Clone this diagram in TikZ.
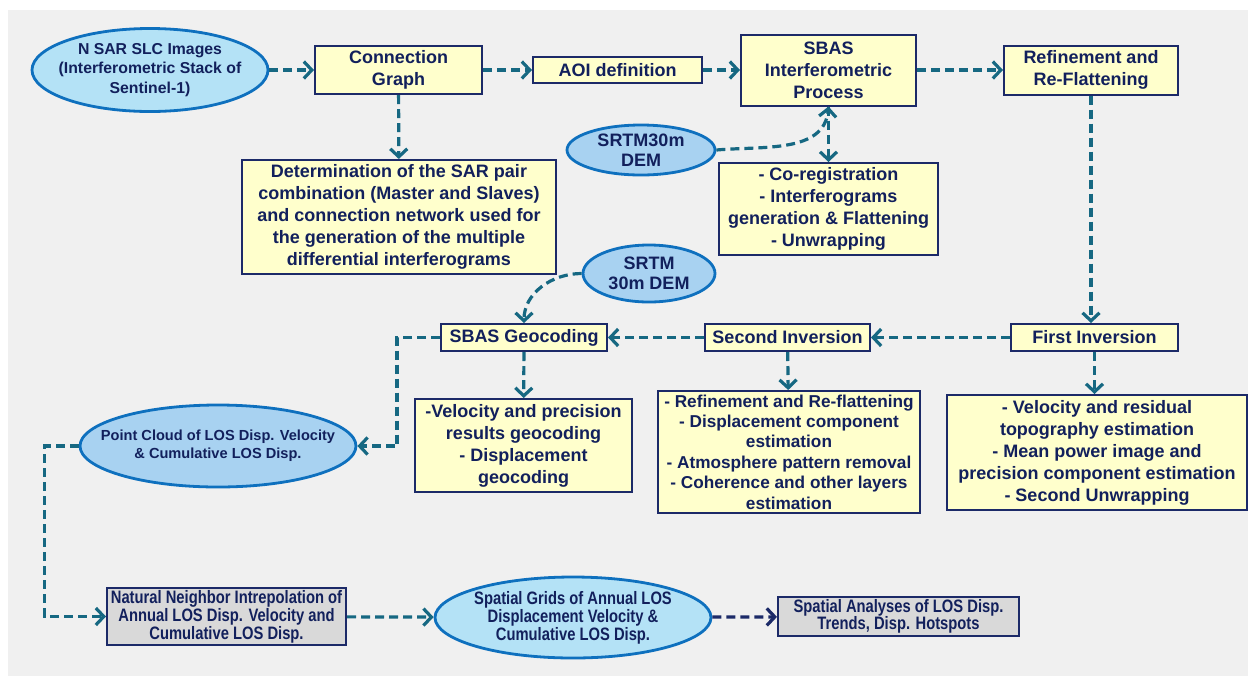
\documentclass[tikz,border=0pt]{standalone}
\usepackage{fontspec}
\setmainfont{Liberation Sans}
\newfontfamily\narrowfont[FakeStretch=0.82]{Liberation Sans}
\usepackage{tikz}
\usetikzlibrary{arrows.meta,shapes.geometric}
\definecolor{PanelGray}{RGB}{240,240,240}
\definecolor{BoxFill}{RGB}{255,255,204}
\definecolor{BoxLine}{RGB}{28,42,104}
\definecolor{TextNavy}{RGB}{18,32,92}
\definecolor{OvalLight}{RGB}{180,226,246}
\definecolor{OvalMid}{RGB}{168,210,241}
\definecolor{OvalLine}{RGB}{14,112,190}
\definecolor{GrayFill}{RGB}{217,217,217}
\definecolor{FlowTeal}{RGB}{22,104,130}

\begin{document}
\begin{tikzpicture}[x=0.5pt, y=-0.5pt,
	box/.style={draw=BoxLine, fill=BoxFill, line width=1pt, inner sep=0pt, align=center, text=TextNavy, font=\bfseries\fontsize{9}{11}\selectfont},
	graybox/.style={box, fill=GrayFill, font=\narrowfont\bfseries\fontsize{9}{9}\selectfont},
	oval/.style={ellipse, draw=OvalLine, fill=OvalLight, line width=1.4pt, inner sep=0pt},
	ovaltext/.style={align=center, text=TextNavy, inner sep=0pt, font=\bfseries\fontsize{9}{10}\selectfont},
	flow/.style={draw=FlowTeal, line width=1.6pt, dash pattern=on 4.5pt off 2.5pt, -{Straight Barb[length=4pt,width=8.5pt]}}]
				% panel
				\fill[white] (0,0) rectangle (1248,676);
				\fill[PanelGray] (8,10) rectangle (1248,676);
				\useasboundingbox (0,0) rectangle (1248,676);

				% input stack
				\node[oval, minimum width=118pt, minimum height=41.5pt] (nsar) at (150,70) {};
				\node[ovaltext, font=\bfseries\fontsize{7.9}{9.8}\selectfont] (nsartxt) at (nsar) {N SAR SLC Images\\(Interferometric Stack of\\Sentinel-1)};

				% top row
				\node[box, minimum width=83.5pt, minimum height=24pt] (cgraph) at (398.5,70) {Connection\\Graph};
				\node[box, minimum width=84.5pt, minimum height=13pt] (aoi) at (617.5,70) {AOI definition};
				\node[box, minimum width=87.5pt, minimum height=35.5pt] (sbas) at (828.5,70) {SBAS\\Interferometric\\Process};
				\node[box, minimum width=87pt, minimum height=24.5pt] (refine) at (1091,70) {Refinement and\\Re-Flattening};

				% pair selection
				\node[box, minimum width=157pt, minimum height=57pt] (determ) at (399,217) {Determination of the SAR pair\\combination (Master and Slaves)\\and connection network used for\\the generation of the multiple\\differential interferograms};

				% dem for interferometry
				\node[oval, fill=OvalMid, minimum width=74pt, minimum height=25pt] (demA) at (641,150) {};
				\node[ovaltext] (demAtxt) at (demA) {SRTM30m\\DEM};
				\node[box, minimum width=109.5pt, minimum height=46pt] (coreg) at (828.5,209) {- Co-registration\\- Interferograms\\generation \& Flattening\\- Unwrapping};

				% dem for geocoding
				\node[oval, fill=OvalMid, minimum width=66pt, minimum height=28.5pt] (demB) at (649,273.5) {};
				\node[ovaltext] (demBtxt) at (demB) {SRTM\\30m DEM};

				% inversion row
				\node[box, minimum width=83pt, minimum height=13.5pt] (geo) at (524,337.5) {SBAS Geocoding};
				\node[box, minimum width=82.5pt, minimum height=13.5pt] (second) at (787.5,337.5) {Second Inversion};
				\node[box, minimum width=83.5pt, minimum height=13.5pt] (first) at (1094.5,337.5) {First Inversion};

				% details
				\node[box, minimum width=108.5pt, minimum height=46.5pt] (velgeo) at (523.5,445.5) {-Velocity and precision\\results geocoding\\- Displacement\\geocoding};
				\node[box, minimum width=131pt, minimum height=61pt, font=\bfseries\fontsize{8.6}{10.2}\selectfont] (secdet) at (789,452) {- Refinement and Re-flattening\\- Displacement component\\estimation\\- Atmosphere pattern removal\\- Coherence and other layers\\estimation};
				\node[box, minimum width=150pt, minimum height=57.5pt] (firstdet) at (1097,452.5) {- Velocity and residual\\topography estimation\\- Mean power image and\\precision component estimation\\- Second Unwrapping};

				% point cloud
				\node[oval, fill=OvalMid, minimum width=138pt, minimum height=41pt] (pcloud) at (218,446) {};
				\node[ovaltext, font=\bfseries\fontsize{7.3}{9}\selectfont] (pcloudtxt) at (pcloud) {Point Cloud of LOS Disp. Velocity\\\& Cumulative LOS Disp.};

				% bottom row
				\node[graybox, minimum width=119.5pt, minimum height=28.5pt] (natnb) at (226.5,616.5) {Natural Neighbor Intrepolation of\\Annual LOS Disp. Velocity and\\Cumulative LOS Disp.};
				\node[oval, minimum width=138pt, minimum height=40.5pt] (grids) at (573,617.5) {};
				\node[ovaltext, font=\narrowfont\bfseries\fontsize{9}{9}\selectfont] (gridstxt) at (grids) {Spatial Grids of Annual LOS\\Displacement Velocity \&\\Cumulative LOS Disp.};
				\node[graybox, minimum width=120.5pt, minimum height=19.5pt, font=\narrowfont\bfseries\fontsize{9}{8.6}\selectfont] (spat) at (898.5,616.5) {Spatial Analyses of LOS Disp.\\Trends, Disp. Hotspots};

				% connectors
				\draw[flow] (nsar) -- (cgraph);
				\draw[flow] (cgraph) -- (aoi);
				\draw[flow] (aoi) -- (sbas);
				\draw[flow] (sbas) -- (refine);
				\draw[flow] (cgraph) -- (determ);
				\draw[flow] (demA.east) to[out=5, in=-95] (sbas.south);
				\draw[flow] (sbas.south) -- (coreg.north);
				\draw[flow] (refine.south) -- (refine.south |- first.north);
				\draw[flow] (first) -- (second);
				\draw[flow] (second) -- (geo);
				\draw[flow] (demB.west) to[out=180, in=90] (geo.north);
				\draw[flow] (geo) -- (velgeo);
				\draw[flow] (second) -- (secdet);
				\draw[flow] (first.south) -- (first.south |- firstdet.north);
				\draw[flow] (geo.west) -- ++(-43,0) |- (pcloud.east);
				\draw[flow] (pcloud.west) -- ++(-34,0) |- (natnb.west);
				\draw[flow] (natnb) -- (grids);
				\draw[flow, draw=BoxLine] (grids) -- (spat);
			\end{tikzpicture}
\end{document}
